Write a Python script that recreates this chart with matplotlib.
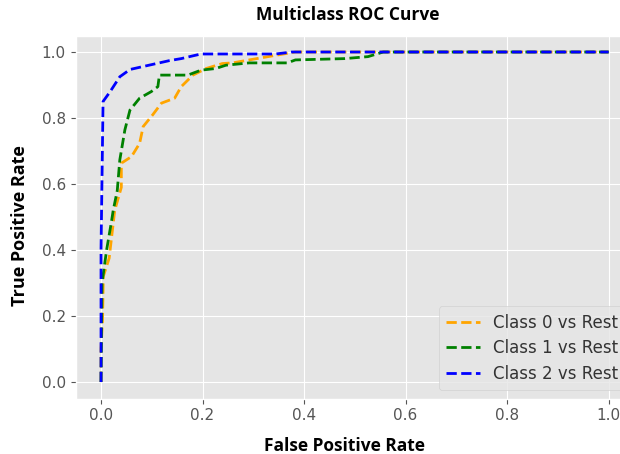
import matplotlib
matplotlib.use("Agg")
import matplotlib.pyplot as plt

# Class 0 vs Rest
fpr0 = [0.0, 0.0, 0.003, 0.0045, 0.016, 0.027, 0.04, 0.04, 0.06, 0.076, 0.083, 0.102, 0.119, 0.145, 0.158, 0.181, 0.207, 0.239, 0.259, 0.292, 0.344, 0.383, 1.0]
tpr0 = [0.0, 0.1, 0.19, 0.32, 0.375, 0.52, 0.59, 0.663, 0.683, 0.723, 0.774, 0.81, 0.845, 0.86, 0.895, 0.93, 0.95, 0.965, 0.967, 0.976, 0.99, 1.0, 1.0]
# Class 1 vs Rest
fpr1 = [0.0, 0.002, 0.011, 0.021, 0.024, 0.032, 0.037, 0.047, 0.057, 0.076, 0.099, 0.112, 0.115, 0.171, 0.197, 0.226, 0.246, 0.292, 0.367, 0.383, 0.48, 0.526, 0.556, 1.0]
tpr1 = [0.0, 0.3, 0.4, 0.49, 0.52, 0.58, 0.673, 0.764, 0.824, 0.86, 0.88, 0.895, 0.93, 0.93, 0.945, 0.95, 0.96, 0.967, 0.967, 0.976, 0.98, 0.986, 1.0, 1.0]
# Class 2 vs Rest
fpr2 = [0.0, 0.0, 0.004, 0.018, 0.037, 0.057, 0.08, 0.109, 0.135, 0.158, 0.18, 0.197, 0.344, 0.376, 1.0]
tpr2 = [0.0, 0.4, 0.85, 0.88, 0.925, 0.947, 0.955, 0.965, 0.974, 0.98, 0.988, 0.994, 0.994, 1.0, 1.0]

labels = ["Class 0 vs Rest", "Class 1 vs Rest", "Class 2 vs Rest"]
colors = ["orange", "green", "blue"]
ticks = [0.0, 0.2, 0.4, 0.6, 0.8, 1.0]

plt.style.use("ggplot")
fig = plt.figure(figsize=(6.2, 4.54), dpi=100)
ax = fig.add_axes([0.122, 0.1222, 0.9006, 0.7996])

for f, t, c, l in zip([fpr0, fpr1, fpr2], [tpr0, tpr1, tpr2], colors, labels):
    ax.plot(f, t, linestyle="--", color=c, lw=2, label=l)

ax.set_xlim(-0.05, 1.05)
ax.set_ylim(-0.05, 1.05)
ax.set_xticks(ticks)
ax.set_yticks(ticks)
ax.set_xticklabels([f"{v:.1f}" for v in ticks])
ax.set_yticklabels([f"{v:.1f}" for v in ticks])
ax.tick_params(labelsize=11, colors="#555555")

leg = ax.legend(loc="lower right", fontsize=12, handlelength=2.0,
                labelspacing=0.45, borderpad=0.45)
for t in leg.get_texts():
    t.set_color("#333333")

fig.text(0.561, 0.967, "Multiclass ROC Curve", ha="center", va="center",
         fontsize=12.5, fontweight="bold", family="Open Sans", color="black")
fig.text(0.556, 0.018, "False Positive Rate", ha="center", va="center",
         fontsize=12.5, fontweight="bold", family="Open Sans", color="black")
fig.text(0.032, 0.503, "True Positive Rate", ha="center", va="center", rotation=90,
         fontsize=13, fontweight="bold", family="Open Sans", color="black")

fig.savefig("out.png", dpi=100)
